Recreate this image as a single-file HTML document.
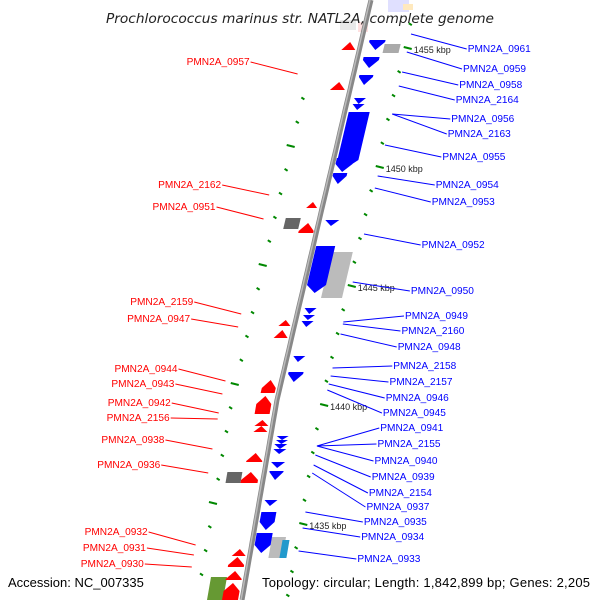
<!DOCTYPE html>
<html><head><meta charset="utf-8"><style>
html,body{margin:0;padding:0;background:#fff;overflow:hidden;width:600px;height:600px;}
svg{display:block;font-family:"Liberation Sans",sans-serif;overflow:hidden;}
</style></head><body>
<svg id="chart" width="600" height="600" viewBox="0 0 600 600">
<g id="faint" opacity="0.25">
<rect x="388" y="0" width="20" height="12" fill="#88f"/><rect x="395" y="0" width="14" height="12" fill="#88f"/>
<rect x="340" y="20" width="16" height="10" fill="#aaa"/><rect x="358" y="22" width="10" height="10" fill="#f88"/>
<rect x="403" y="4" width="10" height="6" fill="#fa0"/>
</g>
<g id="backbone-g"></g>
<g id="ticks"></g>
<g id="genes"></g>
<g id="labels"></g>
<text x="300" y="23" text-anchor="middle" font-size="13" font-style="italic" fill="#222" font-family="DejaVu Sans, sans-serif" textLength="388" lengthAdjust="spacingAndGlyphs">Prochlorococcus marinus str. NATL2A, complete genome</text>
<text x="8" y="587" font-size="13" fill="#000">Accession: NC_007335</text>
<text x="262" y="587" font-size="13" fill="#000" textLength="328" lengthAdjust="spacing">Topology: circular; Length: 1,842,899 bp; Genes: 2,205</text>
</svg>
<script>
const NS='http://www.w3.org/2000/svg';
const bbY=[0,200,400,600];
const bbX=[371,324,277,242];
const blueGenes=[[40,50,8,24,'#00f'],[57,68,6,22,'#00f'],[75,85,6,20,'#00f'],[98,104,6,18,'#00f'],[104,110,6,18,'#00f'],[112,168,4,25,'#00f'],[158,172,3,20,'#00f'],[173,184,3,17,'#00f'],[220,226,6,20,'#00f'],[246,293,3,22,'#00f'],[308,314,6,18,'#00f'],[315,320,6,18,'#00f'],[321,327,6,18,'#00f'],[356,362,6,18,'#00f'],[372,382,5,20,'#00f'],[436,440,6,18,'#00f'],[440,444,6,18,'#00f'],[444,449,5,18,'#00f'],[449,454,5,18,'#00f'],[462,468,5,19,'#00f'],[471,480,5,19,'#00f'],[500,506,5,18,'#00f'],[512,530,4,19,'#00f'],[533,553,3,19,'#00f']];
const redGenes=[[42,50,-18,-4,'#f00'],[82,90,-20,-5,'#f00'],[202,208,-16,-5,'#f00'],[223,233,-18,-3,'#f00'],[320,326,-16,-4,'#f00'],[330,338,-18,-4,'#f00'],[380,393,-18,-4,'#f00'],[396,414,-20,-5,'#f00'],[420,426,-18,-4,'#f00'],[426,432,-18,-4,'#f00'],[453,462,-20,-4,'#f00'],[472,483,-22,-5,'#f00'],[549,556,-18,-4,'#f00'],[557,567,-20,-4,'#f00'],[571,580,-20,-4,'#f00'],[583,600,-20,-4,'#f00']];
const otherGenes=[[44,53,24,40,'#aaa'],[252,298,20,41,'#bbb'],[218,229,-34,-19,'#666'],[472,483,-37,-22,'#666'],[537,558,19,33,'#bbb'],[540,558,30,37,'#29c'],[577,600,-35,-19,'#693']];
const rightMajorKbp=[1455,1450,1445,1440,1435];
const rightMinorKbp=[1456,1454,1453,1452,1451,1449,1448,1447,1446,1444,1443,1442,1441,1439,1438,1437,1436,1434,1433,1432,1431];
const leftMajorKbp=[1454,1449,1444,1439,1434];
const leftMinorKbp=[1456,1455,1453,1452,1451,1450,1448,1447,1446,1445,1443,1442,1441,1440,1438,1437,1436,1435,1433,1432,1431];
const leftNames=['PMN2A_0957','PMN2A_2162','PMN2A_0951','PMN2A_2159','PMN2A_0947','PMN2A_0944','PMN2A_0943','PMN2A_0942','PMN2A_2156','PMN2A_0938','PMN2A_0936','PMN2A_0932','PMN2A_0931','PMN2A_0930'];
const leftTextY=[61,184,206,301,318,368,383,402,417,439,464,531,547,563];
const leftTargetY=[74,195,219,314,327,381,394,413,419,449,473,545,555,567];
const rightNames=['PMN2A_0961','PMN2A_0959','PMN2A_0958','PMN2A_2164','PMN2A_0956','PMN2A_2163','PMN2A_0955','PMN2A_0954','PMN2A_0953','PMN2A_0952','PMN2A_0950','PMN2A_0949','PMN2A_2160','PMN2A_0948','PMN2A_2158','PMN2A_2157','PMN2A_0946','PMN2A_0945','PMN2A_0941','PMN2A_2155','PMN2A_0940','PMN2A_0939','PMN2A_2154','PMN2A_0937','PMN2A_0935','PMN2A_0934','PMN2A_0933'];
const rightTextY=[48,68,84,99,118,133,156,184,201,244,290,315,330,346,365,381,397,412,427,443,460,476,492,506,521,536,558];
const rightTargetY=[34,52,72,86,114,114,145,176,188,234,282,322,324,334,368,376,384,390,446,446,446,455,465,473,512,528,551];

function bx(y){for(let i=0;i<bbY.length-1;i++){if(y<=bbY[i+1]||i===bbY.length-2){const t=(y-bbY[i])/(bbY[i+1]-bbY[i]);return bbX[i]+t*(bbX[i+1]-bbX[i]);}}}
function kY(k,base){return base+(1455-k)*23.8;}
function mk(tag,attrs,parent){const e=document.createElementNS(NS,tag);for(const k in attrs)e.setAttribute(k,attrs[k]);parent.appendChild(e);return e;}

const bbG=document.getElementById('backbone-g');
let pts=[];for(let y=0;y<=600;y+=10)pts.push((bx(y)).toFixed(1)+','+y);
const bb=mk('polyline',{points:pts.join(' '),fill:'none',stroke:'#888','stroke-width':5},bbG);


const bb2=mk('polyline',{points:pts.join(' '),fill:'none',stroke:'#bbb','stroke-width':1.5,transform:'translate(-1,0)'},bbG);



const tg=document.getElementById('ticks');
function tick(k,base,off,len,major,side){
  const y=kY(k,base);const x=bx(y)+off;
  if(y>598)return;
  const l=mk('line',{x1:x-len/2,y1:y-1,x2:x+len/2,y2:y+1,stroke:'#080','stroke-width':2},tg);
  
  
  if(major&&side==='r'){const t=mk('text',{x:x+6,y:y+5,'font-size':9,fill:'#222'},tg);t.textContent=k+' kbp';
    
    }
}
rightMajorKbp.forEach(k=>tick(k,48,48,8,true,'r'));
rightMinorKbp.forEach(k=>tick(k,48,45,3,false,'r'));
leftMajorKbp.forEach(k=>tick(k,146-23.8,-46,8,true,'l'));
leftMinorKbp.forEach(k=>tick(k,146-23.8,-45,3,false,'l'));

const gg=document.getElementById('genes');
function gene(g,dir,name){
  const [y1,y2,a,b,c]=g;const len=y2-y1;const tip=Math.min(8,len);
  let p;
  if(dir>0){const yt=y2-tip;p=[[bx(y1)+a,y1],[bx(y1)+b,y1],[bx(yt)+b,yt],[bx(y2)+(a+b)/2,y2],[bx(yt)+a,yt]];}
  else if(dir<0){const yt=y1+tip;p=[[bx(y1)+(a+b)/2,y1],[bx(yt)+b,yt],[bx(y2)+b,y2],[bx(y2)+a,y2],[bx(yt)+a,yt]];}
  else{p=[[bx(y1)+a,y1],[bx(y1)+b,y1],[bx(y2)+b,y2],[bx(y2)+a,y2]];}
  const e=mk('polygon',{points:p.map(q=>q[0].toFixed(1)+','+q[1]).join(' '),fill:c},gg);
  
  
}
otherGenes.forEach(g=>gene(g,0,'feature-block'));
blueGenes.forEach(g=>gene(g,1,'forward-gene'));
redGenes.forEach(g=>gene(g,-1,'reverse-gene'));

const lg=document.getElementById('labels');
leftNames.forEach((n,i)=>{
  const ty=leftTextY[i],gy=leftTargetY[i];
  const endX=bx(gy)-56;
  const tx=endX-48;
  const t=mk('text',{x:tx,y:ty+4,'font-size':10.5,fill:'#f00','text-anchor':'end',textLength:63,lengthAdjust:'spacingAndGlyphs'},lg);t.textContent=n;
  
  
  const l=mk('line',{x1:tx+1,y1:ty+1,x2:endX,y2:gy,stroke:'#f00','stroke-width':1},lg);
  
  
});
rightNames.forEach((n,i)=>{
  const ty=rightTextY[i],gy=rightTargetY[i];
  const sx=bx(gy)+48;const tx=bx(ty)+108;
  const t=mk('text',{x:tx,y:ty+4,'font-size':10.5,fill:'#00f',textLength:63,lengthAdjust:'spacingAndGlyphs'},lg);t.textContent=n;
  
  
  const l=mk('line',{x1:sx,y1:gy,x2:tx-1,y2:ty+1,stroke:'#00f','stroke-width':1},lg);
  
  
});
</script>
</body></html>
